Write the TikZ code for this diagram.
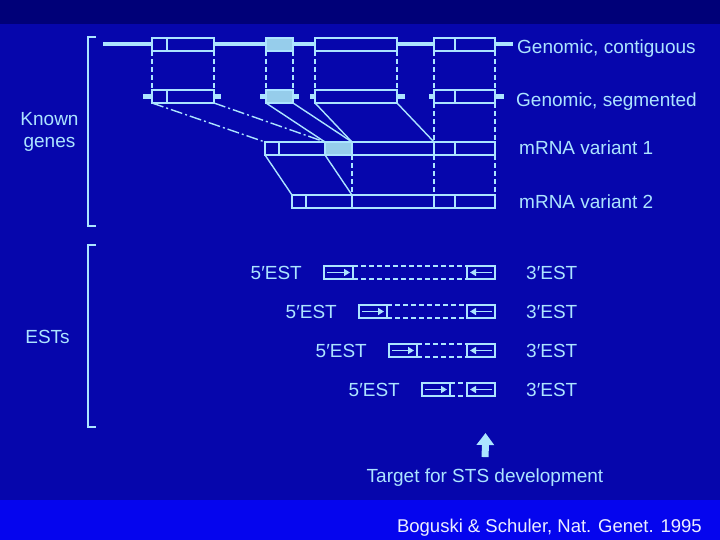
\documentclass[tikz,border=0pt]{standalone}
\usepackage{fontspec}
\setmainfont{Liberation Sans}
\usepackage{xcolor}
\usepackage{tikz}
\usetikzlibrary{positioning, arrows.meta, backgrounds}
\definecolor{slNavy}{RGB}{0, 0, 120}
\definecolor{slBlue}{RGB}{6, 6, 172}
\definecolor{slBright}{RGB}{5, 5, 238}
\definecolor{slCyan}{RGB}{172, 228, 255}
\definecolor{slShade}{RGB}{150, 205, 235}
\definecolor{slWhite}{RGB}{235, 238, 255}
\tikzset{
    txt/.style={
        font=\fontsize{19}{22}\selectfont,
        text=slCyan,
        inner sep=0pt
    },
    exon/.style={
        rectangle,
        draw=slCyan,
        line width=2pt,
        fill=slBlue,
        inner sep=0pt,
        outer sep=0pt,
        minimum height=13pt
    },
    shexon/.style={
        exon,
        fill=slShade
    },
    backbone/.style={
        slCyan,
        line width=4pt
    },
    stub/.style={
        slCyan,
        line width=5pt
    },
    drop/.style={
        slCyan,
        line width=1.4pt,
        dash pattern=on 5pt off 3pt
    },
    skip/.style={
        slCyan,
        line width=1.4pt,
        dash pattern=on 12pt off 3pt on 2pt off 3pt
    },
    splice/.style={
        slCyan,
        line width=1.4pt
    },
    bracket/.style={
        slCyan,
        line width=1.8pt
    },
    estdash/.style={
        slCyan,
        line width=1.2pt,
        dash pattern=on 5pt off 3pt
    },
    estarrow/.style={
        slCyan,
        line width=1.6pt,
        -{Triangle[length=6pt, width=7pt]}
    },
    bigarrow/.style={
        slCyan,
        line width=7pt,
        -{Triangle[length=12pt, width=17pt]}
    }
}

\begin{document}
\begin{tikzpicture}[x=1pt, y=-1pt]
    % Slide background
    \fill[slBlue] (0,0) rectangle (720,540);
    \fill[slNavy] (0,0) rectangle (720,24);
    \fill[slBright] (0,500) rectangle (720,540);
    \useasboundingbox (0,0) rectangle (720,540);

    % Brackets
    \draw[bracket] (96,37) -- (88,37) -- (88,226) -- (96,226);
    \draw[bracket] (96,245) -- (88,245) -- (88,427) -- (96,427);
    \node[txt, align=center] (known) at (49.5,131.5) {Known\\genes};
    \node[txt, anchor=base] (ests) at (47.5,343) {ESTs};

    % Genomic rows
    \foreach \r/\y in {g/44.5, s/96.5} {
        \node[exon, minimum width=15pt] (\r A1) at (159.5,\y) {};
        \node[exon, minimum width=47pt] (\r A2) at (190.5,\y) {};
        \node[shexon, minimum width=27pt] (\r B) at (279.5,\y) {};
        \node[exon, minimum width=82pt] (\r C) at (356,\y) {};
        \node[exon, minimum width=21pt] (\r D1) at (444.5,\y) {};
        \node[exon, minimum width=40pt] (\r D2) at (475,\y) {};
    }
    \coordinate (gL) at (103,44.5);
    \coordinate (gR) at (513,44.5);
    \draw[backbone] (gL) -- (gA1.west) (gA2.east) -- (gB.west) (gB.east) -- (gC.west)
        (gC.east) -- (gD1.west) (gD2.east) -- (gR);
    \foreach \a/\b/\l/\r in {A1/A2/9/7, B/B/6/6, C/C/5/8, D1/D2/5/9} {
        \draw[stub] (s\a.west) -- ++(-\l,0);
        \draw[stub] (s\b.east) -- ++(\r,0);
    }

    % mRNA variants
    \node[exon, minimum width=14pt] (mA1) at (272,148.5) {};
    \node[exon, minimum width=46pt] (mA2) at (302,148.5) {};
    \node[shexon, minimum width=27pt] (mB) at (338.5,148.5) {};
    \node[exon, minimum width=82pt] (mC) at (393,148.5) {};
    \node[exon, minimum width=21pt] (mD1) at (444.5,148.5) {};
    \node[exon, minimum width=40pt] (mD2) at (475,148.5) {};

    \node[exon, minimum width=14pt] (nA1) at (299,201.5) {};
    \node[exon, minimum width=46pt] (nA2) at (329,201.5) {};
    \node[exon, minimum width=82pt] (nC) at (393,201.5) {};
    \node[exon, minimum width=21pt] (nD1) at (444.5,201.5) {};
    \node[exon, minimum width=40pt] (nD2) at (475,201.5) {};

    % contiguous -> segmented
    \foreach \e in {A1, B, C, D1} \draw[drop] (g\e.south west) -- (s\e.north west);
    \foreach \e in {A2, B, C, D2} \draw[drop] (g\e.south east) -- (s\e.north east);

    % segmented -> variant 1
    \draw[skip] (sA1.south west) -- (mA1.north west);
    \draw[skip] (sA2.south east) -- (mA2.north east);
    \draw[splice] (sB.south west) -- (mB.north west);
    \draw[splice] (sB.south east) -- (mB.north east);
    \draw[splice] (sC.south west) -- (mC.north west);
    \draw[splice] (sC.south east) -- (mC.north east);
    \draw[drop] (sD1.south west) -- (mD1.north west);
    \draw[drop] (sD2.south east) -- (mD2.north east);

    % variant 1 -> variant 2
    \draw[splice] (mA1.south west) -- (nA1.north west);
    \draw[splice] (mA2.south east) -- (nA2.north east);
    \draw[drop] (mB.south east) -- (nC.north west);
    \draw[drop] (mD1.south west) -- (nD1.north west);
    \draw[drop] (mD2.south east) -- (nD2.north east);

    % Row labels
    \node[txt, anchor=base west] (lgc) at ([xshift=22pt, yshift=-3pt]gD2.south east) {Genomic, contiguous};
    \node[txt, anchor=base west] (lgs) at ([xshift=21pt, yshift=-4pt]sD2.south east) {Genomic, segmented};
    \node[txt, anchor=base west] (lm1) at ([xshift=24pt]mD2.south east) {mRNA variant 1};
    \node[txt, anchor=base west] (lm2) at ([xshift=24pt]nD2.south east) {mRNA variant 2};

    % EST pairs
    \foreach \i/\y/\xa/\wa in {1/272.5/338.5/29pt, 2/311.5/373/28pt, 3/350.5/403/28pt, 4/389.5/436/28pt} {
        \node[exon, minimum width=\wa] (ea\i) at (\xa,\y) {};
        \node[exon, minimum width=28pt] (eb\i) at (481,\y) {};
        \draw[estdash] (ea\i.north east) -- (eb\i.north west) (ea\i.south east) -- (eb\i.south west);
        \draw[estarrow] ([xshift=3pt]ea\i.west) -- ([xshift=-3pt]ea\i.east);
        \draw[estarrow] ([xshift=-3pt]eb\i.east) -- ([xshift=3pt]eb\i.west);
        \node[txt, anchor=base east] (f\i) at ([xshift=-22pt]ea\i.south west) {5′EST};
        \node[txt, anchor=base west] (t\i) at ([xshift=31pt]eb\i.south east) {3′EST};
    }

    % STS target
    \node[txt, anchor=base] (target) at (485,482) {Target for STS development};
    \coordinate (tgt) at (485.5,433);
    \draw[bigarrow, shorten <=11pt] (target.north) -- (tgt);

    % Reference
    \node[font=\fontsize{18.5}{22}\selectfont, text=slWhite, anchor=base east, inner sep=0pt] (cite) at (702,532) {Boguski \& Schuler, Nat. Genet. 1995};
\end{tikzpicture}
\end{document}
